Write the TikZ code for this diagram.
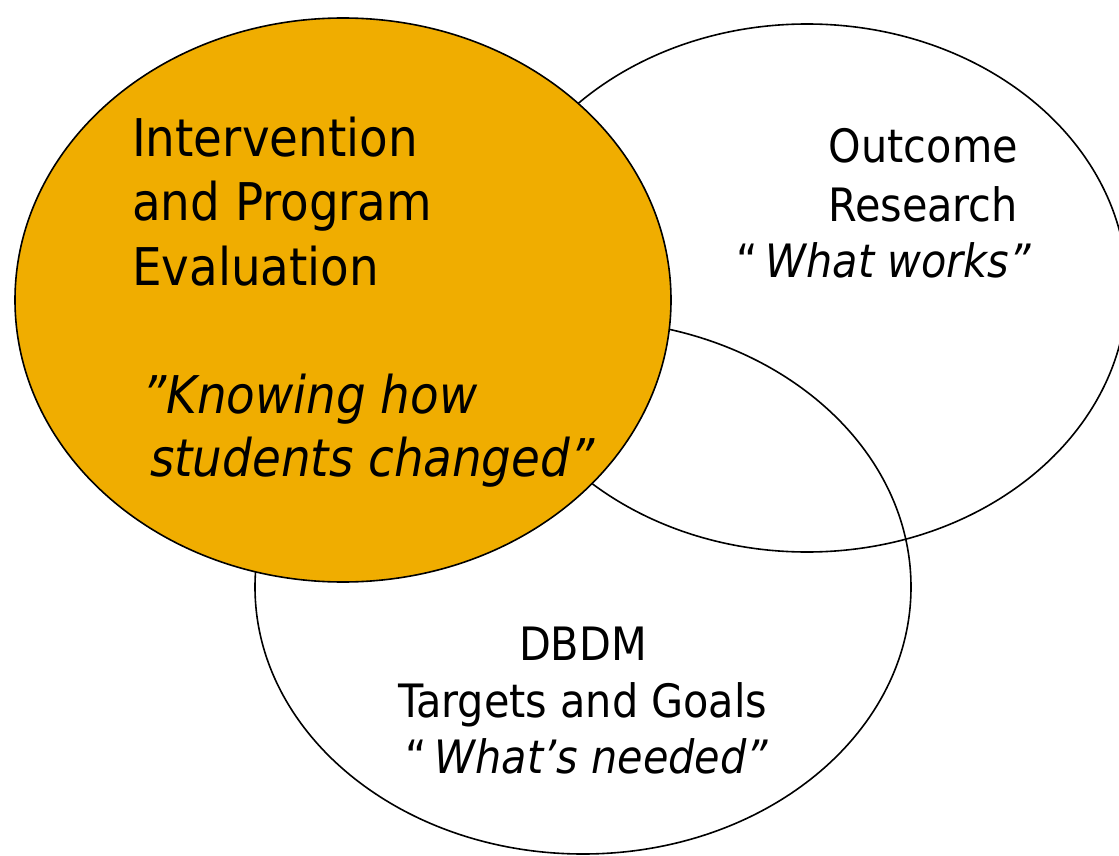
\documentclass[tikz,border=0pt]{standalone}
\usepackage{fontspec}
\setmainfont{DejaVu Sans Condensed}[ItalicFont={DejaVu Sans Condensed Oblique}]
\definecolor{venngold}{RGB}{240,173,0}
\begin{document}
\begin{tikzpicture}[x=1pt,y=-1pt,
    ring/.style={draw=black,line width=1.6pt},
    bigtxt/.style={font=\fontsize{52}{64}\selectfont,inner sep=0pt},
    midtxt/.style={font=\fontsize{46}{56}\selectfont,inner sep=0pt}]
    \useasboundingbox (0,0) rectangle (1119,856);

    % the two rings behind
    \draw[ring] (807,288) ellipse [x radius=320pt, y radius=264pt];
    \draw[ring] (583,587) ellipse [x radius=328pt, y radius=267pt];
    % the gold ring in front
    \draw[ring,fill=venngold] (343,300) ellipse [x radius=328pt, y radius=282pt];

    \node[bigtxt,anchor=base west] (iv1) at (132,157) {Intervention};
    \node[bigtxt,anchor=base west] (iv2) at (132,220) {and Program};
    \node[bigtxt,anchor=base west] (iv3) at (132,285) {Evaluation};
    \node[bigtxt,anchor=base west] (kn1) at (142,413) {\textit{\char"22 Knowing how}};
    \node[bigtxt,anchor=base west] (kn2) at (150,476) {\textit{students changed''}};

    \node[midtxt,anchor=base east] (or1) at (1018,162) {Outcome};
    \node[midtxt,anchor=base east] (or2) at (1018,221) {Research};
    \node[midtxt,anchor=base east] (or3) at (1031,277) {``\,\textit{What works''}};

    \node[midtxt,anchor=base] (db1) at (583,660) {DBDM};
    \node[midtxt,anchor=base] (db2) at (583,717) {Targets and Goals};
    \node[midtxt,anchor=base] (db3) at (587,773) {``\,\textit{What's needed''}};
\end{tikzpicture}
\end{document}
